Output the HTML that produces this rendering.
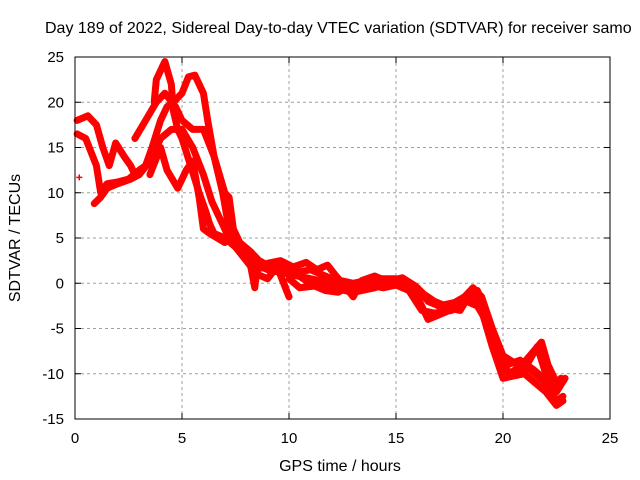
<!DOCTYPE html>
<html><head><meta charset="utf-8"><style>
body{margin:0;background:#fff}
svg{display:block;font-family:"Liberation Sans",sans-serif}
</style></head><body>
<svg id="chart" width="640" height="480">
<text x="45" y="33" font-size="16">Day 189 of 2022, Sidereal Day-to-day VTEC variation (SDTVAR) for receiver samo</text>
<text x="340" y="471" font-size="16" text-anchor="middle">GPS time / hours</text>
<text transform="translate(20,238) rotate(-90)" font-size="16" text-anchor="middle">SDTVAR / TECUs</text>
<g id="grid"></g><g id="series"></g><g id="axes"></g>
</svg>
<script>
const xTicks=[0,5,10,15,20,25];
const yTicks=[-15,-10,-5,0,5,10,15,20,25];
const trace1=[[0.1,16.5],[0.5,16],[1,13],[1.2,10],[1.5,11],[2,11.2],[2.5,11.5],[3,12.5],[3.3,13],[3.6,15],[4,18],[4.3,19.5],[4.6,20],[5,21],[5.3,22.8],[5.6,23],[6,21],[6.2,18],[6.5,14],[6.9,10],[7.2,6],[7.5,4],[8,3],[8.5,2],[9,1.5],[10,1],[11,0.5],[12,0],[13,-0.5],[14,0],[15,0],[16,-1],[17,-2.5],[18,-3],[18.5,-1],[19,-2],[19.5,-6],[20,-9.5],[20.5,-10],[21,-9],[21.5,-10],[22,-11],[22.5,-13],[22.8,-12.5]];
const trace2=[[0.1,18],[0.6,18.5],[1,17.5],[1.3,15],[1.6,13],[1.9,15.5],[2.3,14],[2.6,13],[2.8,12]];
const trace3=[[3.7,20],[3.8,22.5],[4.2,24.5],[4.5,22],[4.6,19],[4.8,17],[5,16],[5.4,13],[5.8,10],[6.1,8],[6.3,6.5],[6.5,5.5],[7,5],[7.5,4],[8,2.5],[8.5,1],[9,0.5],[9.5,2],[10,1.5],[11,0],[12,-0.5],[13,-1],[14,-0.5],[15,0.3],[15.5,0],[16,-1.5],[16.5,-4],[17,-3.5],[17.5,-3],[18,-2.5],[18.5,-1.5],[19,-3],[19.5,-7],[20,-10.5],[21,-10],[22,-12],[22.5,-13.5],[22.8,-13]];
const trace4=[[0.9,8.8],[1.2,9.5],[1.5,10.5],[2,11],[2.6,11.5],[3,12],[3.5,13.5],[4,16],[4.5,17],[5,17],[5.5,15],[6,12],[6.4,9],[6.8,7],[7.2,5],[7.7,4],[8.2,2],[8.4,-0.5],[8.5,1.5],[9,2],[9.5,1.5],[10,-1.5]];
const trace5=[[3.5,12],[4,15],[4.3,12.5],[4.8,10.5],[5.2,12.5],[5.5,13.5],[5.8,9.5],[6,6],[6.3,5.5],[7,4.5]];
const trace6=[[2.8,16],[3.3,18],[3.8,20],[4.2,21],[4.7,19.5],[5,18],[5.5,17],[6,17],[6.5,14],[7,10],[7.2,9.5],[7.4,6],[7.7,4.5],[8.2,3.5],[8.6,2.5],[9,2],[10,1],[11,1.5],[12,0.5],[13,0],[14,0.5],[15,0.5],[16,-0.5],[16.5,-2],[17,-2.5],[18,-2],[18.6,-0.5],[19,-1.5],[19.5,-5],[20,-8],[21,-9.5],[21.6,-7],[22,-10],[22.5,-12],[22.9,-10.5]];
const trace7=[[9,2.2],[9.6,2.5],[10.2,1.8],[10.8,2.3],[11.3,1.5],[11.8,2],[12.2,0.8],[12.6,-0.3],[13,-1.5],[13.4,0.3],[14,0.8],[14.6,0.2],[15.3,0.6],[15.9,-0.3],[16.3,-1.2],[16.8,-2],[17.4,-2.6],[18.2,-1.5],[18.8,-0.8],[19.2,-3],[19.7,-7],[20.2,-9],[20.8,-8.5],[21.4,-9.5],[21.9,-10.5],[22.4,-11.5],[22.7,-10.5]];
const trace8=[[10,0.5],[10.5,-0.5],[11.2,-0.3],[11.7,-0.8],[12.3,-1],[12.8,-0.3],[13.3,-0.8],[13.8,-0.2],[14.4,-0.5],[15,-0.2],[15.6,-0.8],[16.2,-3],[16.8,-3.3],[17.6,-3],[18.3,-2],[18.8,-2.5],[19.3,-4.5],[19.8,-8],[20.3,-10],[20.9,-9],[21.8,-6.5],[22.1,-9],[22.5,-11]];
const isolated=[[0.2,11.7]];
const allTraces=[trace1,trace2,trace3,trace4,trace5,trace6,trace7,trace8];
const NS='http://www.w3.org/2000/svg';
const X0=75,X1=610,Y0=419,Y1=57;
const sx=h=>X0+(h-0)/(25-0)*(X1-X0);
const sy=v=>Y0-(v+15)/(40)*(Y0-Y1);
function mk(t,a,p){const e=document.createElementNS(NS,t);for(const k in a)e.setAttribute(k,a[k]);p.appendChild(e);return e;}
const grid=document.getElementById('grid'),axes=document.getElementById('axes'),ser=document.getElementById('series');
xTicks.forEach(t=>{
 if(t>0&&t<25){const g=mk('line',{x1:sx(t),x2:sx(t),y1:Y1,y2:Y0,stroke:'#a0a0a0','stroke-dasharray':'3,3'},grid);
 
 }
 mk('line',{x1:sx(t),x2:sx(t),y1:Y0,y2:Y0-6,stroke:'#000'},axes);
 mk('line',{x1:sx(t),x2:sx(t),y1:Y1,y2:Y1+6,stroke:'#000'},axes);
 const l=mk('text',{x:sx(t),y:Y0+24,'font-size':15,'text-anchor':'middle'},axes);l.textContent=t;
 
 
});
yTicks.forEach(t=>{
 if(t>-15&&t<25){const g=mk('line',{x1:X0,x2:X1,y1:sy(t),y2:sy(t),stroke:'#a0a0a0','stroke-dasharray':'3,3'},grid);
 
 }
 mk('line',{x1:X0,x2:X0+6,y1:sy(t),y2:sy(t),stroke:'#000'},axes);
 mk('line',{x1:X1,x2:X1-6,y1:sy(t),y2:sy(t),stroke:'#000'},axes);
 const l=mk('text',{x:X0-11,y:sy(t)+5,'font-size':15,'text-anchor':'end'},axes);l.textContent=t;
 
 
});
const frame=mk('rect',{x:X0,y:Y1,width:X1-X0,height:Y0-Y1,fill:'none',stroke:'#000'},axes);


allTraces.forEach((tr,i)=>{
 const p=mk('polyline',{points:tr.map(d=>sx(d[0])+','+sy(d[1])).join(' '),fill:'none',stroke:'#f00','stroke-width':7,'stroke-linejoin':'round','stroke-linecap':'round'},ser);
 
 
});
isolated.forEach(d=>{
 const p=mk('path',{d:`M${sx(d[0])-3},${sy(d[1])}h6M${sx(d[0])},${sy(d[1])-3}v6`,stroke:'#f00','stroke-width':1.5},ser);
 
 
});
</script>
</body></html>
